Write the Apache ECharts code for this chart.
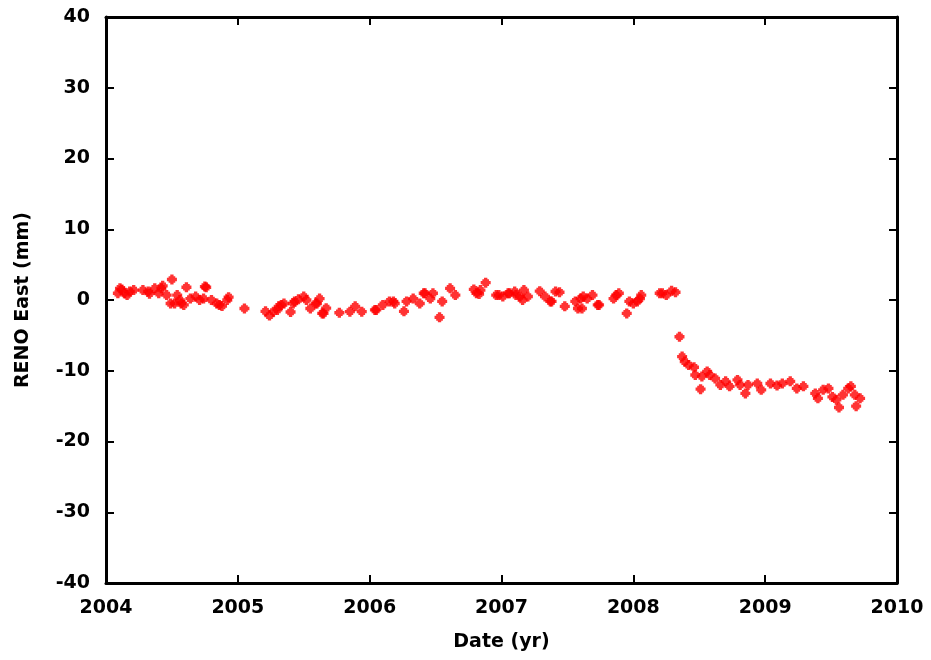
<!DOCTYPE html>
<html>
<head>
<meta charset="utf-8">
<script src="https://cdn.jsdelivr.net/npm/echarts@6/dist/echarts.min.js"></script>
<style>
  html, body { margin: 0; padding: 0; background: #fff; }
  #chart { width: 931px; height: 660px; }
</style>
</head>
<body>
<div id="chart"></div>
<script>
// GPS station RENO, east component (mm) against decimal year
const years = [
  2004.09, 2004.106, 2004.12, 2004.14, 2004.16, 2004.18, 2004.21, 2004.28, 2004.32, 2004.33,
  2004.37, 2004.40, 2004.42, 2004.43, 2004.46, 2004.49, 2004.50, 2004.52, 2004.54, 2004.56,
  2004.57, 2004.59, 2004.61, 2004.64, 2004.68, 2004.71, 2004.74, 2004.75, 2004.76, 2004.80,
  2004.84, 2004.86, 2004.88, 2004.92, 2004.93,
  2005.05, 2005.21, 2005.24, 2005.27, 2005.30, 2005.31, 2005.33, 2005.35, 2005.40, 2005.42,
  2005.43, 2005.46, 2005.50, 2005.52, 2005.55, 2005.59, 2005.60, 2005.62, 2005.64, 2005.65,
  2005.67, 2005.77, 2005.85, 2005.89, 2005.94,
  2006.04, 2006.05, 2006.10, 2006.15, 2006.18, 2006.19, 2006.26, 2006.28, 2006.33, 2006.38,
  2006.41, 2006.42, 2006.46, 2006.48, 2006.53, 2006.55, 2006.61, 2006.65, 2006.79, 2006.81,
  2006.83, 2006.84, 2006.88, 2006.96, 2006.98,
  2007.01, 2007.05, 2007.06, 2007.10, 2007.11, 2007.14, 2007.16, 2007.17, 2007.20, 2007.29,
  2007.33, 2007.37, 2007.38, 2007.41, 2007.44, 2007.48, 2007.56, 2007.58, 2007.60, 2007.61,
  2007.62, 2007.65, 2007.69, 2007.73, 2007.74, 2007.85, 2007.87, 2007.89, 2007.95, 2007.97,
  2008.00, 2008.03, 2008.05, 2008.06,
  2008.20, 2008.22, 2008.25, 2008.29, 2008.32,
  2008.35, 2008.37, 2008.39, 2008.42, 2008.46, 2008.47, 2008.51, 2008.52, 2008.56, 2008.58,
  2008.62, 2008.66, 2008.70, 2008.73, 2008.79, 2008.81, 2008.85, 2008.87, 2008.94, 2008.97,
  2009.04, 2009.09, 2009.13, 2009.19, 2009.24, 2009.29, 2009.38, 2009.40, 2009.44, 2009.48,
  2009.51, 2009.54, 2009.56, 2009.59, 2009.63, 2009.65, 2009.68, 2009.69, 2009.72
];
const eastMm = [
  0.95, 1.65, 1.5, 0.95, 0.7, 1.2, 1.4, 1.4, 1.2, 0.9,
  1.65, 0.95, 1.65, 2.0, 0.7, -0.5, 2.9, -0.5, 0.7, 0.0,
  -0.5, -0.7, 1.8, 0.2, 0.5, 0.0, 0.2, 1.9, 1.8, 0.0,
  -0.5, -0.7, -0.85, 0.0, 0.4,
  -1.2, -1.6, -2.2, -1.65, -1.4, -0.9, -0.7, -0.5, -1.7, -0.5,
  -0.2, 0.1, 0.5, 0.0, -1.2, -0.5, -0.5, 0.2, -1.9, -1.9,
  -1.15, -1.8, -1.65, -0.9, -1.65,
  -1.4, -1.4, -0.7, -0.2, -0.2, -0.5, -1.6, -0.2, 0.2, -0.5,
  0.95, 0.95, 0.2, 0.95, -2.45, -0.2, 1.65, 0.7, 1.5, 0.95,
  0.85, 1.4, 2.45, 0.7, 0.7,
  0.5, 0.95, 0.95, 1.2, 0.7, 0.5, 0.0, 1.4, 0.5, 1.25,
  0.5, -0.2, -0.2, 1.2, 1.1, -0.9, -0.2, -1.2, 0.2, -1.2,
  0.5, 0.2, 0.7, -0.7, -0.7, 0.2, 0.7, 0.95, -1.9, -0.2,
  -0.5, -0.2, 0.2, 0.7,
  0.95, 0.95, 0.7, 1.3, 1.1,
  -5.2, -8.0, -8.7, -9.2, -9.5, -10.6, -12.6, -10.8, -10.1, -10.6,
  -11.1, -12.0, -11.5, -12.2, -11.3, -12.0, -13.2, -12.0, -11.8, -12.7,
  -11.8, -12.1, -11.8, -11.5, -12.5, -12.2, -13.2, -13.9, -12.7, -12.5,
  -13.7, -14.1, -15.2, -13.4, -12.5, -12.2, -13.4, -15.0, -13.9
];
const xTickYears = [2004, 2005, 2006, 2007, 2008, 2009, 2010];
const yTickValues = [-40, -30, -20, -10, 0, 10, 20, 30, 40];

const points = years.map((y, i) => [y, eastMm[i]]);

// chunky plus-shaped marker with notched corners
const markerPath = 'path://M3,0 L6,0 L6,1.5 L7.5,1.5 L7.5,3 L9,3 L9,6 L7.5,6 L7.5,7.5 L6,7.5 L6,9 L3,9 L3,7.5 L1.5,7.5 L1.5,6 L0,6 L0,3 L1.5,3 L1.5,1.5 L3,1.5 Z';

const font = '"DejaVu Sans", Verdana, sans-serif';
const axisLine = { show: true, onZero: false, lineStyle: { color: '#000', width: 3 } };
const tickStyle = { show: true, inside: true, length: 8, lineStyle: { color: '#000', width: 2 } };
const labelStyle = { color: '#000', fontSize: 19, fontWeight: 'bold', fontFamily: font };
const titleStyle = { color: '#000', fontSize: 19, fontWeight: 'bold', fontFamily: font };

const chart = echarts.init(document.getElementById('chart'), null, { renderer: 'canvas' });
chart.setOption({
  animation: false,
  backgroundColor: '#fff',
  grid: { left: 106, right: 34, top: 17, bottom: 77, containLabel: false },
  xAxis: [
    {
      type: 'value', min: xTickYears[0], max: xTickYears[xTickYears.length - 1], interval: 1,
      position: 'bottom',
      axisLine, axisTick: tickStyle, splitLine: { show: false },
      axisLabel: Object.assign({ margin: 16, formatter: v => String(v) }, labelStyle),
      name: 'Date (yr)', nameLocation: 'middle', nameGap: 50,
      nameTextStyle: titleStyle
    },
    {
      type: 'value', min: xTickYears[0], max: xTickYears[xTickYears.length - 1], interval: 1,
      position: 'top',
      axisLine, axisTick: tickStyle, splitLine: { show: false }, axisLabel: { show: false }
    }
  ],
  yAxis: [
    {
      type: 'value', min: yTickValues[0], max: yTickValues[yTickValues.length - 1], interval: 10,
      position: 'left',
      axisLine, axisTick: tickStyle, splitLine: { show: false },
      axisLabel: Object.assign({ margin: 16 }, labelStyle),
      name: 'RENO East (mm)', nameLocation: 'middle', nameGap: 73, nameRotate: 90,
      nameTextStyle: titleStyle
    },
    {
      type: 'value', min: yTickValues[0], max: yTickValues[yTickValues.length - 1], interval: 10,
      position: 'right',
      axisLine, axisTick: tickStyle, splitLine: { show: false }, axisLabel: { show: false }
    }
  ],
  series: [{
    type: 'scatter',
    xAxisIndex: 0, yAxisIndex: 0,
    data: points,
    symbol: markerPath,
    symbolSize: 10,
    itemStyle: { color: '#ff0000' },
    emphasis: { disabled: true }
  }]
});
</script>
</body>
</html>
